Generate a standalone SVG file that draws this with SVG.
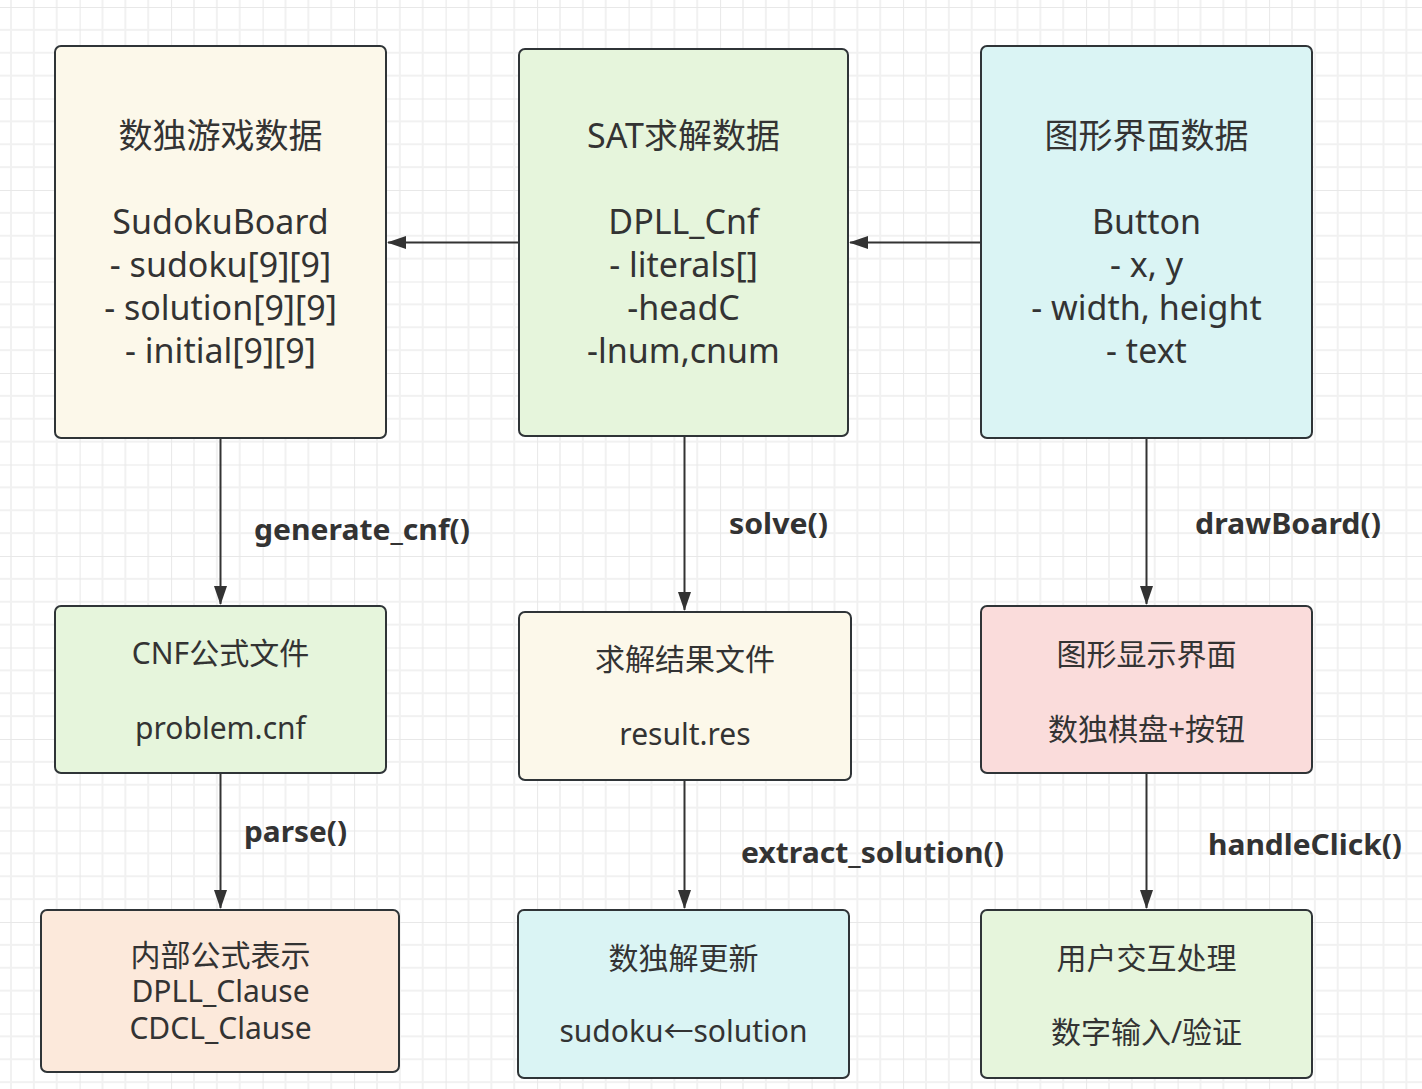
<svg xmlns="http://www.w3.org/2000/svg" width="1422" height="1089" viewBox="0 0 1422 1089">
<defs>
<pattern id="grid" patternUnits="userSpaceOnUse" x="-11.9" y="7" width="91.5" height="91.5">
<path d="M22.875,0V91.5M45.75,0V91.5M68.625,0V91.5M0,22.875H91.5M0,45.75H91.5M0,68.625H91.5" stroke="#f1f1f1" stroke-width="2" fill="none"/>
<path d="M0,0V91.5M0,0H91.5" stroke="#e8e8e8" stroke-width="2" fill="none"/>
</pattern>
<marker id="arr" markerUnits="userSpaceOnUse" markerWidth="20" markerHeight="14" refX="18" refY="6.5" orient="auto">
<path d="M0,0 L19,6.5 L0,13 z" fill="#333"/>
</marker>
</defs>
<style>
.box{stroke:#2f3437;stroke-width:2;}
.t{font-family:"Noto Sans","Noto Sans CJK SC",sans-serif;fill:#333;text-anchor:middle;}
.big{font-size:34px;}
.mid{font-size:30px;}
.lbl{font-family:"Noto Sans","Noto Sans CJK SC",sans-serif;fill:#333;font-weight:bold;font-size:28px;}
.c{stroke:#333;stroke-width:2;fill:none;marker-end:url(#arr);}
</style>
<rect width="1422" height="1089" fill="#ffffff"/>
<rect width="1422" height="1089" fill="url(#grid)"/>

<g id="connectors">
<path class="c" d="M519,242.5H388"/>
<path class="c" d="M981,242.5H850"/>
<path class="c" d="M220.5,438V604"/>
<path class="c" d="M684.5,436V610"/>
<path class="c" d="M1146.5,438V604"/>
<path class="c" d="M220.5,773V908"/>
<path class="c" d="M684.5,780V908"/>
<path class="c" d="M1146.5,773V908"/>
</g>

<g id="labels">
<text class="lbl" x="254" y="540" textLength="216" lengthAdjust="spacingAndGlyphs">generate_cnf()</text>
<text class="lbl" x="729" y="534" textLength="99" lengthAdjust="spacingAndGlyphs">solve()</text>
<text class="lbl" x="1195" y="534" textLength="186" lengthAdjust="spacingAndGlyphs">drawBoard()</text>
<text class="lbl" x="244" y="842" textLength="103" lengthAdjust="spacingAndGlyphs">parse()</text>
<text class="lbl" x="741" y="863" textLength="263" lengthAdjust="spacingAndGlyphs">extract_solution()</text>
<text class="lbl" x="1208" y="855" textLength="194" lengthAdjust="spacingAndGlyphs">handleClick()</text>
</g>

<g id="sudoku-data">
<rect class="box" x="55" y="46" width="331" height="392" rx="6" fill="#fcf8ea"/>
<text class="t big" x="220.5" y="148">数独游戏数据</text>
<text class="t big" x="220.5" y="234">SudokuBoard</text>
<text class="t big" x="220.5" y="277">- sudoku[9][9]</text>
<text class="t big" x="220.5" y="320">- solution[9][9]</text>
<text class="t big" x="220.5" y="363">- initial[9][9]</text>
</g>

<g id="sat-data">
<rect class="box" x="519" y="49" width="329" height="387" rx="6" fill="#e6f5dc"/>
<text class="t big" x="683.5" y="148">SAT求解数据</text>
<text class="t big" x="683.5" y="234">DPLL_Cnf</text>
<text class="t big" x="683.5" y="277">- literals[]</text>
<text class="t big" x="683.5" y="320">-headC</text>
<text class="t big" x="683.5" y="363">-lnum,cnum</text>
</g>

<g id="gui-data">
<rect class="box" x="981" y="46" width="331" height="392" rx="6" fill="#daf4f4"/>
<text class="t big" x="1146.5" y="148">图形界面数据</text>
<text class="t big" x="1146.5" y="234">Button</text>
<text class="t big" x="1146.5" y="277">- x, y</text>
<text class="t big" x="1146.5" y="320">- width, height</text>
<text class="t big" x="1146.5" y="363">- text</text>
</g>

<g id="cnf-file">
<rect class="box" x="55" y="606" width="331" height="167" rx="6" fill="#e6f5dc"/>
<text class="t mid" x="220.5" y="664">CNF公式文件</text>
<text class="t mid" x="220.5" y="739">problem.cnf</text>
</g>

<g id="result-file">
<rect class="box" x="519" y="612" width="332" height="168" rx="6" fill="#fcf8ea"/>
<text class="t mid" x="685" y="670">求解结果文件</text>
<text class="t mid" x="685" y="745">result.res</text>
</g>

<g id="gui-display">
<rect class="box" x="981" y="606" width="331" height="167" rx="6" fill="#fadcdb"/>
<text class="t mid" x="1146.5" y="665">图形显示界面</text>
<text class="t mid" x="1146.5" y="740">数独棋盘+按钮</text>
</g>

<g id="internal-formula">
<rect class="box" x="41" y="910" width="358" height="162" rx="6" fill="#fce9db"/>
<text class="t mid" x="220.5" y="966">内部公式表示</text>
<text class="t mid" x="220.5" y="1002">DPLL_Clause</text>
<text class="t mid" x="220.5" y="1039">CDCL_Clause</text>
</g>

<g id="solution-update">
<rect class="box" x="518" y="910" width="331" height="168" rx="6" fill="#daf4f4"/>
<text class="t mid" x="683.5" y="969">数独解更新</text>
<text class="t mid" x="683.5" y="1042">sudoku←solution</text>
</g>

<g id="user-interaction">
<rect class="box" x="981" y="910" width="331" height="168" rx="6" fill="#e6f5dc"/>
<text class="t mid" x="1146.5" y="969">用户交互处理</text>
<text class="t mid" x="1146.5" y="1043">数字输入/验证</text>
</g>
</svg>
